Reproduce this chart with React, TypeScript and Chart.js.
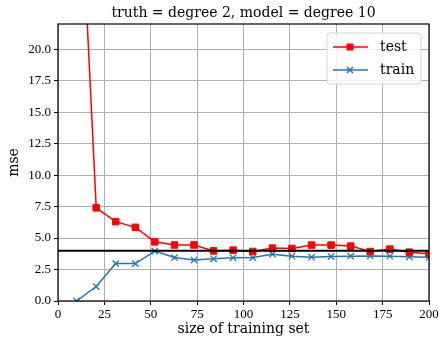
import React, { useEffect, useRef } from "react";
import { Chart, registerables } from "chart.js";

Chart.register(...registerables);

const sizes = [10, 20.6, 31.1, 41.7, 52.2, 62.8, 73.3, 83.9, 94.4, 105, 115.6, 126.1, 136.7, 147.2, 157.8, 168.3, 178.9, 189.4, 200];
const testMse = [39.5, 7.4, 6.3, 5.85, 4.7, 4.45, 4.45, 3.98, 4.04, 3.93, 4.2, 4.17, 4.44, 4.44, 4.36, 3.93, 4.12, 3.88, 3.75];
const trainMse = [0.0, 1.15, 2.97, 2.97, 3.96, 3.45, 3.25, 3.35, 3.43, 3.45, 3.72, 3.56, 3.48, 3.53, 3.56, 3.58, 3.56, 3.51, 3.48];
const noiseLevel = 4.0;
const noiseSpan = [0, 200];
const yTicks = [0, 2.5, 5, 7.5, 10, 12.5, 15, 17.5, 20];
const xTicks = [0, 25, 50, 75, 100, 125, 150, 175, 200];
const titleText = "truth = degree 2, model = degree 10";
const xLabel = "size of training set";
const yLabel = "mse";
const legendLabels = ["test", "train"];

const TEXT_FONT = "'DejaVu Serif', serif";
const TICK_FONT = "'Liberation Serif', serif";
const RED = "#ff0000";
const BLUE = "#1f77b4";

const framePlugin = {
  id: "frame",
  afterDatasetsDraw(chart: any) {
    const { ctx, chartArea: a } = chart;
    ctx.save();
    ctx.strokeStyle = "#000";
    ctx.lineWidth = 1.2;
    ctx.strokeRect(a.left, a.top, a.right - a.left, a.bottom - a.top);

    // title centred over the plot area
    ctx.fillStyle = "#000";
    ctx.font = `14px ${TEXT_FONT}`;
    ctx.textAlign = "center";
    ctx.textBaseline = "middle";
    ctx.fillText(titleText, (a.left + a.right) / 2, 13);
    ctx.restore();

    // legend
    const bx = 327, by = 33, bw = 94, bh = 51, r = 3;
    ctx.save();
    ctx.beginPath();
    ctx.moveTo(bx + r, by);
    ctx.arcTo(bx + bw, by, bx + bw, by + bh, r);
    ctx.arcTo(bx + bw, by + bh, bx, by + bh, r);
    ctx.arcTo(bx, by + bh, bx, by, r);
    ctx.arcTo(bx, by, bx + bw, by, r);
    ctx.closePath();
    ctx.fillStyle = "rgba(255,255,255,0.8)";
    ctx.fill();
    ctx.strokeStyle = "#d5d5d5";
    ctx.lineWidth = 1;
    ctx.stroke();

    const rows = [47, 70];
    const colors = [RED, BLUE];
    rows.forEach((ry, i) => {
      ctx.strokeStyle = colors[i];
      ctx.lineWidth = 1.5;
      ctx.beginPath();
      ctx.moveTo(333, ry);
      ctx.lineTo(368, ry);
      ctx.stroke();
      if (i === 0) {
        ctx.fillStyle = RED;
        ctx.fillRect(346.5, ry - 3.5, 7, 7);
      } else {
        ctx.beginPath();
        ctx.moveTo(347, ry - 3);
        ctx.lineTo(353, ry + 3);
        ctx.moveTo(353, ry - 3);
        ctx.lineTo(347, ry + 3);
        ctx.stroke();
      }
      ctx.fillStyle = "#000";
      ctx.font = `14px ${TEXT_FONT}`;
      ctx.textAlign = "left";
      ctx.textBaseline = "middle";
      ctx.fillText(legendLabels[i], 380, ry);
    });
    ctx.restore();
  },
};

export default function App() {
  const ref = useRef<HTMLCanvasElement>(null);
  useEffect(() => {
    if (!ref.current) return;
    const chart = new Chart(ref.current, {
      type: "line",
      data: {
        datasets: [
          {
            label: "noise",
            data: noiseSpan.map((x) => ({ x, y: noiseLevel })),
            borderColor: "#000",
            borderWidth: 2,
            pointRadius: 0,
            order: 0,
          },
          {
            label: legendLabels[0],
            data: sizes.map((x, i) => ({ x, y: testMse[i] })),
            borderColor: RED,
            backgroundColor: RED,
            borderWidth: 1.5,
            pointStyle: "rect",
            pointRadius: 4.6,
            pointBorderWidth: 1,
            order: 1,
          },
          {
            label: legendLabels[1],
            data: sizes.map((x, i) => ({ x, y: trainMse[i] })),
            borderColor: BLUE,
            backgroundColor: BLUE,
            borderWidth: 1.5,
            pointStyle: "crossRot",
            pointRadius: 4.5,
            pointBorderWidth: 1.3,
            order: 2,
          },
        ],
      },
      options: {
        responsive: false,
        animation: false,
        layout: { padding: { left: 0, right: 12, top: 24, bottom: 0 } },
        plugins: {
          legend: { display: false },
          tooltip: { enabled: false },
          title: { display: false },
        },
        scales: {
          x: {
            type: "linear",
            min: 0,
            max: 200,
            afterBuildTicks: (s: any) => {
              s.ticks = xTicks.map((v) => ({ value: v }));
            },
            afterFit: (s: any) => {
              s.height = 39;
            },
            ticks: {
              color: "#000",
              font: { family: TICK_FONT, size: 13 },
              padding: 2,
              maxRotation: 0,
              callback: (v: any) => String(v),
            },
            grid: { color: "#b0b0b0", lineWidth: 1, tickColor: "#000", tickLength: 4, tickWidth: 1 },
            border: { display: false },
            title: {
              display: true,
              text: xLabel,
              color: "#000",
              font: { family: TEXT_FONT, size: 14 },
              padding: { top: 2, bottom: 2 },
            },
          },
          y: {
            type: "linear",
            min: 0,
            max: 22,
            afterBuildTicks: (s: any) => {
              s.ticks = yTicks.map((v) => ({ value: v }));
            },
            afterFit: (s: any) => {
              s.width = 58;
            },
            ticks: {
              color: "#000",
              font: { family: TICK_FONT, size: 13 },
              padding: 3,
              callback: (v: any) => Number(v).toFixed(1),
            },
            grid: { color: "#b0b0b0", lineWidth: 1, tickColor: "#000", tickLength: 4, tickWidth: 1 },
            border: { display: false },
            title: {
              display: true,
              text: yLabel,
              color: "#000",
              font: { family: TEXT_FONT, size: 14 },
              padding: { top: 6, bottom: 0 },
            },
          },
        },
      },
      plugins: [framePlugin],
    } as any);
    return () => chart.destroy();
  }, []);
  return (
    <div style={{ position: "absolute", left: 0, top: 0, width: 441, height: 340 }}>
      <canvas ref={ref} width={441} height={340} />
    </div>
  );
}
